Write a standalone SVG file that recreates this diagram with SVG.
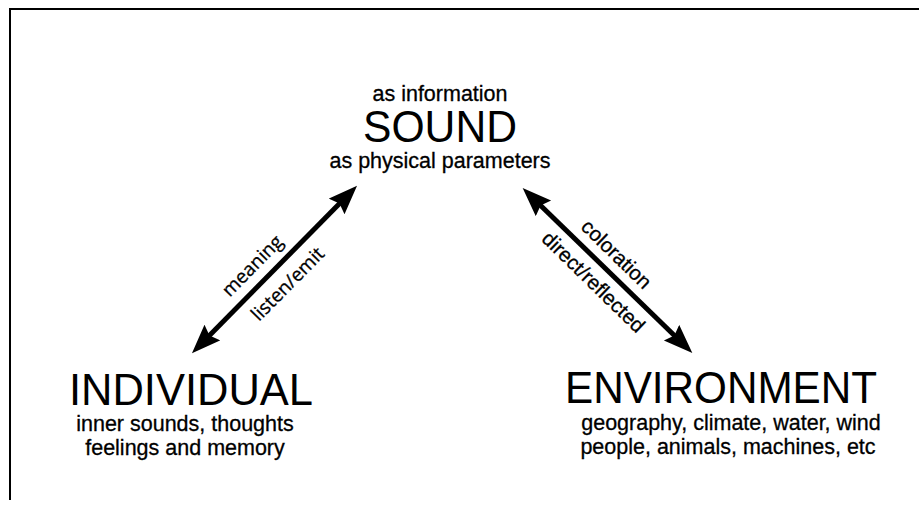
<svg xmlns="http://www.w3.org/2000/svg" width="919" height="505" viewBox="0 0 919 505">
  <style>
    .title { font-family: "Liberation Sans", Arial, sans-serif; font-size: 44px; fill: #000; text-anchor: middle; }
    .sub { font-family: "Liberation Sans", Arial, sans-serif; font-size: 21.5px; fill: #000; text-anchor: middle; stroke: #000; stroke-width: 0.3; }
    .lblL { font-family: "Open Sans", "Liberation Sans", sans-serif; font-size: 19px; fill: #000; text-anchor: middle; stroke: #000; stroke-width: 0.3; }
    .lblR { font-family: "Liberation Sans", Arial, sans-serif; font-size: 20.5px; fill: #000; text-anchor: middle; stroke: #000; stroke-width: 0.3; }
    .frame { fill: none; stroke: #000; stroke-width: 2; }
    .shaft { stroke: #000; stroke-width: 5; fill: none; marker-start: url(#head); marker-end: url(#head); }
  </style>
  <defs>
    <marker id="head" markerUnits="userSpaceOnUse" markerWidth="30" markerHeight="24"
            viewBox="0 0 30 24" refX="9" refY="12" orient="auto-start-reverse">
      <path d="M0,1 L29,12 L0,23 L4,12 Z" fill="#000"/>
    </marker>
  </defs>

  <rect width="919" height="505" fill="#fff"/>

  <!-- frame: top and left edges -->
  <path class="frame" d="M10,500 L10,9 L919,9"/>

  <g id="sound">
    <text class="sub" x="440" y="101">as information</text>
    <text class="title" x="440" y="142" textLength="154" lengthAdjust="spacingAndGlyphs">SOUND</text>
    <text class="sub" x="440" y="168">as physical parameters</text>
  </g>

  <g id="individual">
    <text class="title" x="191" y="405" textLength="244" lengthAdjust="spacingAndGlyphs">INDIVIDUAL</text>
    <text class="sub" x="185" y="431">inner sounds, thoughts</text>
    <text class="sub" x="185" y="455">feelings and memory</text>
  </g>

  <g id="environment">
    <text class="title" x="721" y="403" textLength="312" lengthAdjust="spacingAndGlyphs">ENVIRONMENT</text>
    <text class="sub" x="731" y="430">geography, climate, water, wind</text>
    <text class="sub" x="728" y="454">people, animals, machines, etc</text>
  </g>

  <g id="connectors">
    <!-- individual <-> sound -->
    <line class="shaft" x1="206" y1="339" x2="343" y2="200"/>
    <g transform="translate(274.5,269.5) rotate(-45.3)">
      <text class="lblL" x="-13" y="-12">meaning</text>
      <text class="lblL" x="-1" y="26">listen/emit</text>
    </g>
    <!-- sound <-> environment -->
    <line class="shaft" x1="537" y1="202" x2="678" y2="339"/>
    <g transform="translate(607.5,270.5) rotate(44.3)">
      <text class="lblR" x="-5" y="-11">coloration</text>
      <text class="lblR" x="-2" y="25">direct/reflected</text>
    </g>
  </g>
</svg>
